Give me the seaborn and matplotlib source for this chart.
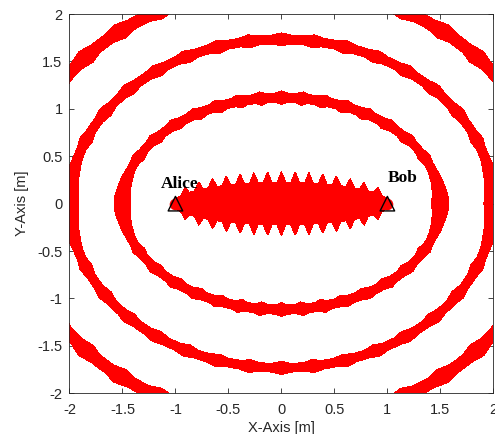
import matplotlib
matplotlib.use('Agg')
import matplotlib.pyplot as plt
import numpy as np
import seaborn as sns

# Nodes (transmitter / receiver)
node_x = [-1.0, 1.0]
node_y = [0.0, 0.0]
node_names = ['Alice', 'Bob']
label_dx = [-0.14, 0.0]
label_dy = [0.17, 0.23]

# Path length d1 + d2 [m] of the inner zone edge and of each outer ring
inner_path_sum = 2.05
ring_path_sums = [3.0, 4.0, 5.0]
ring_half_widths = [0.072, 0.08, 0.11]

# jagged rendering: bulges every 10 deg on the rings, teeth every 0.13 m inside
bulge_step = np.deg2rad(10)
bulge_gain = 0.5
side_gain = 2.2
side_spread = np.deg2rad(9)
tooth_step = 0.13
tooth_gain = 0.06

sns.set_style('ticks')
plt.rcParams['font.family'] = ['Liberation Sans', 'DejaVu Sans']
plt.rcParams['xtick.direction'] = 'in'
plt.rcParams['ytick.direction'] = 'in'

fig = plt.figure(figsize=(4.95, 4.34), dpi=100)
ax = fig.add_axes([0.1404, 0.0938, 0.8562, 0.8739])

# path-sum field on a fine grid
gx = np.linspace(-2.2, 2.2, 1101)
X, Y = np.meshgrid(gx, gx)
S = np.hypot(X - node_x[0], Y - node_y[0]) + np.hypot(X - node_x[1], Y - node_y[1])

ang = np.arctan2(np.abs(Y), np.abs(X))
near_axis = np.exp(-(ang / side_spread) ** 2)
side = 1 + (side_gain - 1) * near_axis
phi = np.arctan2(Y, X) / bulge_step
d_phi = np.abs(phi - np.round(phi))
bump = np.clip(1 - d_phi / 0.3, 0, None) * (1 - np.exp(-(ang / (1.6 * side_spread)) ** 4))

d_x = np.abs(X / tooth_step - np.round(X / tooth_step)) * tooth_step
tooth = np.clip(1 - d_x / 0.04, 0, None) * (np.abs(X) < 0.95)

inner = S - (inner_path_sum + tooth_gain * tooth)
ax.contourf(X, Y, inner, levels=[inner.min(), 0], colors=['red'])
for s, w in zip(ring_path_sums, ring_half_widths):
    F = np.abs(S - s) - w * (side + bulge_gain * bump)
    ax.contourf(X, Y, F, levels=[F.min(), 0], colors=['red'])

sns.scatterplot(x=node_x, y=node_y, marker='o', s=70, color='red', linewidth=0, ax=ax)

# node markers and names
sns.scatterplot(x=node_x, y=node_y, marker='^', s=110, fc='none', ec='black',
                linewidth=1.0, ax=ax, zorder=5)
for x, y, name, dx, dy in zip(node_x, node_y, node_names, label_dx, label_dy):
    ax.text(x + dx, y + dy, name, family='Liberation Serif', fontweight='bold',
            fontsize=12.5, color='black', ha='left', va='baseline', zorder=6)

ax.set_xlim(-2, 2)
ax.set_ylim(-2, 2)
ticks = np.arange(-2, 2.01, 0.5)
ax.set_xticks(ticks)
ax.set_yticks(ticks)
ax.set_xticklabels(['-2', '-1.5', '-1', '-0.5', '0', '0.5', '1', '1.5', '2'])
ax.set_yticklabels(['-2', '-1.5', '-1', '-0.5', '0', '0.5', '1', '1.5', '2'])
ax.tick_params(axis='both', which='both', top=True, right=True, length=3.5,
               width=0.6, color='#262626', labelsize=10.5, labelcolor='#262626')
ax.tick_params(axis='x', pad=7)
ax.tick_params(axis='y', pad=5)
for sp in ax.spines.values():
    sp.set_visible(True)
    sp.set_color('#262626')
    sp.set_linewidth(0.6)
ax.set_xlabel('X-Axis [m]', fontsize=10.5, color='#262626', labelpad=3)
ax.set_ylabel('Y-Axis [m]', fontsize=10.5, color='#262626', labelpad=6)

fig.savefig('out.png', dpi=100)
